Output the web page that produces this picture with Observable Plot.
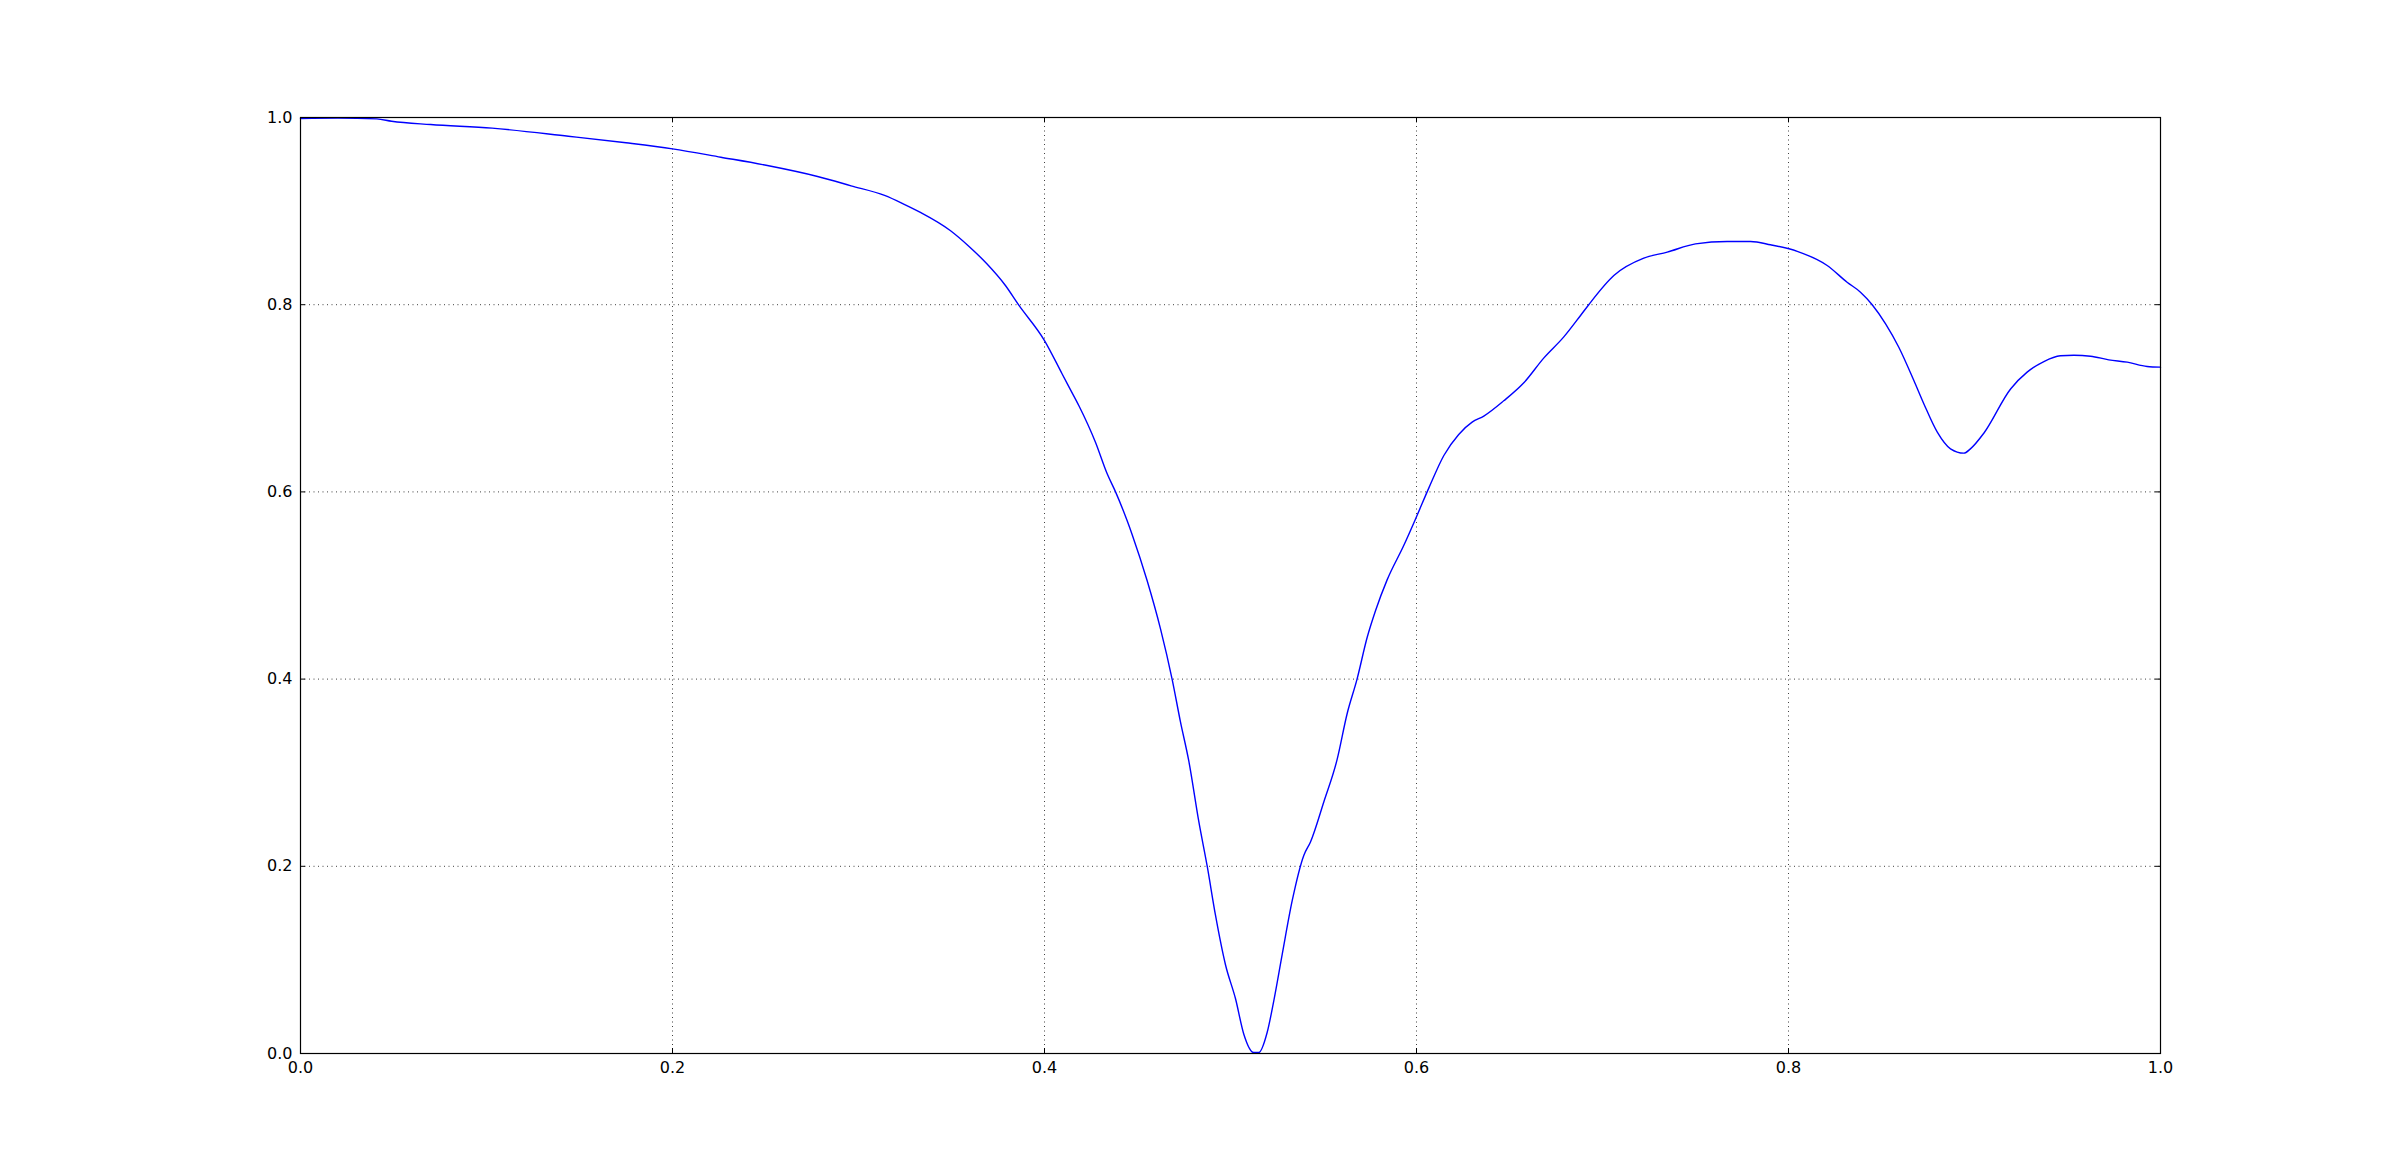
<!DOCTYPE html>
<html>
<head>
<meta charset="utf-8">
<script src="https://cdn.jsdelivr.net/npm/d3@7"></script>
<script src="https://cdn.jsdelivr.net/npm/@observablehq/plot@0.6"></script>
<style>
  html, body { margin: 0; padding: 0; background: #ffffff; }
  svg { display: block; }
</style>
</head>
<body>
<div id="chart"></div>
<script>
const xTicks = [0.0, 0.2, 0.4, 0.6, 0.8, 1.0];
const yTicks = [0.0, 0.2, 0.4, 0.6, 0.8, 1.0];

const xValues = [
  0.000, 0.020, 0.041, 0.049, 0.070, 0.103, 0.144, 0.175, 0.200, 0.226, 0.251,
  0.278, 0.296, 0.314, 0.324, 0.333, 0.3495, 0.359, 0.369, 0.379, 0.386,
  0.400, 0.4095, 0.414, 0.4185, 0.4274, 0.4337, 0.4382, 0.4444, 0.4471, 0.4552,
  0.4624, 0.4686, 0.4731, 0.4776, 0.483, 0.4875, 0.4919, 0.4973, 0.5027, 0.5072,
  0.5125, 0.5152, 0.5197, 0.5233, 0.5278, 0.5332, 0.5394, 0.543, 0.5502, 0.5573,
  0.5627, 0.568, 0.5735, 0.578, 0.5842, 0.5932, 0.600, 0.6066, 0.6147, 0.6227,
  0.6299, 0.6362, 0.6469, 0.6577, 0.6685, 0.6792, 0.6882, 0.6926, 0.7061, 0.7222,
  0.7348, 0.750, 0.767, 0.7796, 0.7903, 0.8047, 0.8208, 0.8315, 0.8387, 0.845,
  0.8522, 0.8593, 0.8674, 0.8728, 0.880, 0.8871, 0.8943, 0.8978, 0.905, 0.9194,
  0.9283, 0.9373, 0.9462, 0.9534, 0.9624, 0.9722, 0.9821, 0.9928, 1.000
];
const yValues = [
  0.999, 0.9995, 0.9985, 0.996, 0.9925, 0.9886, 0.980, 0.973, 0.9665, 0.9576, 0.9487,
  0.937, 0.927, 0.9167, 0.9078, 0.8989, 0.879, 0.863, 0.8437, 0.8205, 0.800,
  0.7617, 0.726, 0.709, 0.692, 0.653, 0.6193, 0.600, 0.5694, 0.5546, 0.505,
  0.4534, 0.400, 0.3543, 0.3123, 0.2474, 0.1998, 0.148, 0.0948, 0.0585, 0.0203,
  0.001, 0.001, 0.0224, 0.0566, 0.106, 0.1635, 0.2116, 0.226, 0.269, 0.3139,
  0.363, 0.3997, 0.4447, 0.4733, 0.506, 0.543, 0.5735, 0.604, 0.6389, 0.6614,
  0.6745, 0.681, 0.6973, 0.7166, 0.7432, 0.7656, 0.7885, 0.800, 0.8312, 0.8497,
  0.8561, 0.865, 0.8675, 0.8675, 0.864, 0.857, 0.8419, 0.824, 0.8134, 0.800,
  0.7796, 0.7546, 0.719, 0.694, 0.6638, 0.646, 0.6414, 0.646, 0.6627, 0.710,
  0.728, 0.7393, 0.7454, 0.746, 0.745, 0.7411, 0.7386, 0.734, 0.7333
];

const data = xValues.map((x, i) => ({x, y: yValues[i]}));

const W = 2400, H = 1170;
const mL = 300, mR = 240, mT = 117, mB = 117;
const innerH = H - mT - mB;
const innerW = W - mL - mR;
const tickLen = 5;
const fmt = d3.format(".1f");

const chart = Plot.plot({
  width: W,
  height: H,
  marginLeft: mL,
  marginRight: mR,
  marginTop: mT,
  marginBottom: mB,
  style: {fontFamily: "DejaVu Sans", fontSize: "16px", background: "#ffffff", color: "#000"},
  x: {domain: [0, 1], ticks: xTicks, tickFormat: fmt, tickSize: 0, tickPadding: 8, label: null},
  y: {domain: [0, 1], ticks: yTicks, tickFormat: fmt, tickSize: 0, tickPadding: 8, label: null},
  marks: [
    Plot.ruleX(xTicks, {x: d => d, stroke: "#000", strokeOpacity: 0.75, strokeWidth: 1, strokeDasharray: "1,3.5"}),
    Plot.ruleY(yTicks, {y: d => d, stroke: "#000", strokeOpacity: 0.75, strokeWidth: 1, strokeDasharray: "1,3.5"}),
    Plot.line(data, {x: "x", y: "y", stroke: "#0000ff", strokeWidth: 1.4, curve: "monotone-x"}),
    Plot.tickX(xTicks, {x: d => d, insetTop: innerH - tickLen, stroke: "#000", strokeWidth: 1}),
    Plot.tickX(xTicks, {x: d => d, insetBottom: innerH - tickLen, stroke: "#000", strokeWidth: 1}),
    Plot.tickY(yTicks, {y: d => d, insetRight: innerW - tickLen, stroke: "#000", strokeWidth: 1}),
    Plot.tickY(yTicks, {y: d => d, insetLeft: innerW - tickLen, stroke: "#000", strokeWidth: 1}),
    Plot.frame({stroke: "#000", strokeWidth: 1.2})
  ]
});

document.getElementById("chart").appendChild(chart);
</script>
</body>
</html>
